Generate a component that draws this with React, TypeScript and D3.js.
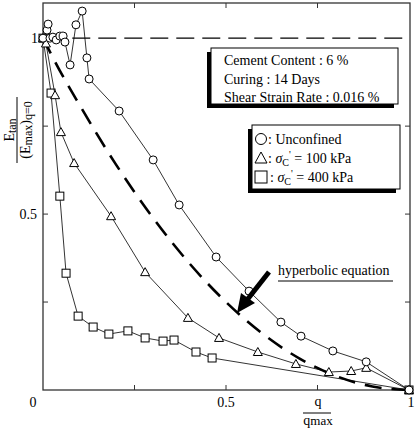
import React from 'react';
import * as d3 from 'd3';

// q/qmax and Etan/(Emax)q=0
const unconfinedX = [0, 0.011, 0.014, 0.019, 0.027, 0.036, 0.046, 0.055, 0.06, 0.074, 0.09, 0.107, 0.12, 0.126, 0.208, 0.301, 0.372, 0.473, 0.563, 0.65, 0.705, 0.792, 0.883, 1.0];
const unconfinedY = [1.0, 1.023, 1.04, 1.0, 1.003, 0.995, 1.006, 1.006, 0.989, 0.924, 1.038, 1.077, 0.944, 0.884, 0.793, 0.654, 0.526, 0.378, 0.281, 0.193, 0.153, 0.111, 0.08, 0.0];

const kpa100X = [0, 0.008, 0.033, 0.049, 0.085, 0.186, 0.279, 0.396, 0.481, 0.587, 0.691, 0.781, 0.842, 0.883, 1.0];
const kpa100Y = [1.0, 0.985, 0.838, 0.733, 0.645, 0.494, 0.335, 0.205, 0.148, 0.108, 0.074, 0.051, 0.054, 0.063, 0.0];

const kpa400X = [0, 0.022, 0.046, 0.063, 0.096, 0.137, 0.18, 0.232, 0.279, 0.328, 0.358, 0.418, 0.462, 1.0];
const kpa400Y = [1.0, 0.844, 0.551, 0.332, 0.21, 0.179, 0.159, 0.168, 0.148, 0.139, 0.142, 0.108, 0.091, 0.0];

// hyperbolic equation curve, read at a few points
const hypX = [0, 0.05, 0.1, 0.2, 0.3, 0.4, 0.5, 0.6, 0.7, 0.8, 0.9, 1.0];
const hypY = [1.0, 0.9, 0.81, 0.64, 0.49, 0.36, 0.25, 0.16, 0.09, 0.04, 0.01, 0.0];

const tickVals = [0.25, 0.5, 0.75];
const infoLines = ['Cement Content : 6 %', 'Curing : 14 Days', 'Shear Strain Rate : 0.016 %'];

const W = 417, H = 429;
const left = 43, right = 409, top = 3, bottom = 390;
const font = '"Liberation Serif", "DejaVu Serif", serif';

const x = d3.scaleLinear().domain([0, 1]).range([left, right]);
const y = d3.scaleLinear().domain([0, 1.1]).range([bottom, top]);

const toPts = (xs: number[], ys: number[]) => xs.map((v, i) => [v, ys[i]] as [number, number]);

const line = d3.line<[number, number]>().x(d => x(d[0])).y(d => y(d[1]));
const smooth = d3.line<[number, number]>().x(d => x(d[0])).y(d => y(d[1])).curve(d3.curveMonotoneX);

const Circle = ({ cx, cy }: { cx: number; cy: number }) =>
  <circle cx={cx} cy={cy} r={4} fill="white" stroke="black" strokeWidth={1} />;
const Tri = ({ cx, cy }: { cx: number; cy: number }) =>
  <path d={`M${cx},${cy - 4.5}L${cx + 4.5},${cy + 3.5}L${cx - 4.5},${cy + 3.5}Z`} fill="white" stroke="black" strokeWidth={1} />;
const Sq = ({ cx, cy }: { cx: number; cy: number }) =>
  <rect x={cx - 4} y={cy - 4} width={8} height={8} fill="white" stroke="black" strokeWidth={1} />;

export default function App() {
  const series = [
    { pts: toPts(kpa400X, kpa400Y), M: Sq },
    { pts: toPts(kpa100X, kpa100Y), M: Tri },
    { pts: toPts(unconfinedX, unconfinedY), M: Circle },
  ];
  return (
    <svg width={W} height={H} style={{ position: 'absolute', left: 0, top: 0, background: 'white' }} fontFamily={font}>
      {/* frame */}
      <rect x={left} y={top} width={right - left + 1} height={bottom - top} fill="none" stroke="#333" strokeWidth={1.3} />
      {tickVals.map(t => (
        <g key={t} stroke="#333" strokeWidth={1}>
          <line x1={x(t)} x2={x(t)} y1={bottom} y2={bottom - 5} />
          <line x1={x(t)} x2={x(t)} y1={top} y2={top + 5} />
          <line x1={left} x2={left + 5} y1={y(t)} y2={y(t)} />
          <line x1={right + 1} x2={right - 4} y1={y(t)} y2={y(t)} />
        </g>
      ))}

      {/* tick labels */}
      <g fontSize={14} fill="black">
        <text x={33} y={407} textAnchor="middle">0</text>
        <text x={x(0.5)} y={407} textAnchor="middle">0.5</text>
        <text x={x(1) + 2} y={407} textAnchor="middle">1</text>
        <text x={38} y={y(1) + 5} textAnchor="end">1</text>
        <text x={37} y={y(0.5) + 5} textAnchor="end">0.5</text>
      </g>

      {/* x label */}
      <g fontSize={14} textAnchor="middle">
        <text x={318} y={406}>q</text>
        <line x1={303} x2={331} y1={413} y2={413} stroke="black" strokeWidth={1} />
        <text x={318} y={425}>q<tspan fontSize={13}>max</tspan></text>
      </g>

      {/* y label */}
      <g transform="translate(0,130) rotate(-90)" fontSize={14} textAnchor="middle">
        <text x={0} y={14}>E<tspan fontSize={12} dy={2}>tan</tspan></text>
        <line x1={-33} x2={33} y1={17} y2={17} stroke="black" strokeWidth={1} />
        <text x={0} y={30}>(E<tspan fontSize={12} dy={2}>max</tspan><tspan dy={-2}>)</tspan><tspan fontSize={12} dy={2}>q=0</tspan></text>
      </g>

      {/* reference line at 1 */}
      <line x1={x(0.08)} x2={x(1)} y1={y(1)} y2={y(1)} stroke="black" strokeWidth={1.3} strokeDasharray="18 8" />

      {/* hyperbolic curve */}
      <path d={smooth(toPts(hypX, hypY)) ?? ''} fill="none" stroke="black" strokeWidth={2.6} strokeDasharray="17 10" />

      {/* data */}
      {series.map((s, i) => (
        <g key={i}>
          <path d={line(s.pts) ?? ''} fill="none" stroke="black" strokeWidth={0.8} />
          {s.pts.map((p, j) => <s.M key={j} cx={x(p[0])} cy={y(p[1])} />)}
        </g>
      ))}

      {/* info box */}
      <rect x={207} y={52} width={187} height={56} fill="black" />
      <rect x={211} y={48} width={187} height={56} fill="white" stroke="black" strokeWidth={1} />
      <g fontSize={14}>
        {infoLines.map((t, i) => <text key={t} x={224} y={65 + i * 18.5}>{t}</text>)}
      </g>

      {/* legend box */}
      <rect x={248} y={129} width={148} height={64} fill="black" />
      <rect x={252} y={125} width={148} height={64} fill="white" stroke="black" strokeWidth={1} />
      <g fontSize={14}>
        <circle cx={261} cy={139} r={5.5} fill="white" stroke="black" strokeWidth={1} />
        <text x={268} y={144}>:  Unconfined</text>
        <path d="M261,152L267,163L255,163Z" fill="white" stroke="black" strokeWidth={1} />
        <text x={268} y={163}>: <tspan fontStyle="italic">σ</tspan><tspan fontSize={10} dy={3}>C</tspan><tspan fontSize={10} dy={-8}>'</tspan><tspan dy={5}> = 100 kPa</tspan></text>
        <rect x={255} y={171} width={12} height={12} fill="white" stroke="black" strokeWidth={1} />
        <text x={270} y={182}>: <tspan fontStyle="italic">σ</tspan><tspan fontSize={10} dy={3}>C</tspan><tspan fontSize={10} dy={-8}>'</tspan><tspan dy={5}> = 400 kPa</tspan></text>
      </g>

      {/* hyperbolic label + arrow */}
      <text x={278} y={275} fontSize={14}>hyperbolic equation</text>
      <line x1={278} x2={393} y1={281} y2={281} stroke="black" strokeWidth={1} />
      <line x1={269} y1={272} x2={247} y2={300} stroke="black" strokeWidth={5} />
      <path d="M237,313L241,293L255,303Z" fill="black" />
    </svg>
  );
}
